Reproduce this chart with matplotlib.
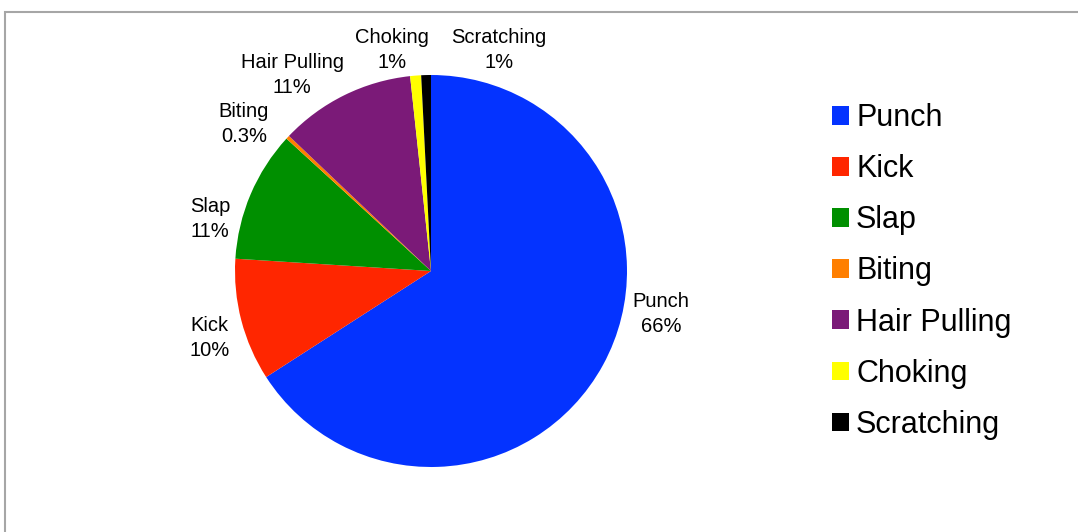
import matplotlib
matplotlib.use("Agg")
import matplotlib.pyplot as plt
from matplotlib.patches import Rectangle

plt.rcParams['font.family'] = ['Liberation Sans', 'DejaVu Sans']

categories = ['Punch', 'Kick', 'Slap', 'Biting', 'Hair Pulling', 'Choking', 'Scratching']
shares = [65.9, 10.1, 10.8, 0.3, 11.2, 0.9, 0.8]
pct_labels = ['66%', '10%', '11%', '0.3%', '11%', '1%', '1%']
colors = ['#0433FF', '#FF2600', '#008F00', '#FF7F00', '#7B1A78', '#FFFF00', '#000000']

# label anchor positions (pie radius = 1)
label_pos = [(1.173, -0.219), (-1.128, -0.342), (-1.128, 0.265), (-0.954, 0.75),
             (-0.709, 1.0), (-0.199, 1.128), (0.347, 1.128)]

W, H = 1078, 532
fig = plt.figure(figsize=(W / 100, H / 100), dpi=100)

# outer gray frame (runs off the right/bottom edge)
fig.patches.append(Rectangle((4.5 / W, -0.1), 1.2, 1.1 - 11.5 / H,
                             transform=fig.transFigure, fill=False,
                             edgecolor='#a6a6a6', linewidth=1.5))

cx, cy, r = 431, 271, 196
ax = fig.add_axes([(cx - r) / W, (H - cy - r) / H, 2 * r / W, 2 * r / H])
wedges, _ = ax.pie(shares, colors=colors, startangle=90, counterclock=False,
                   radius=1.0, wedgeprops=dict(linewidth=0))
ax.set_xlim(-1, 1)
ax.set_ylim(-1, 1)
ax.set_aspect('equal')
ax.axis('off')

for name, pct, (lx, ly) in zip(categories, pct_labels, label_pos):
    ax.text(lx, ly, f'{name}\n{pct}', ha='center', va='center', fontsize=14.5,
            linespacing=1.35, clip_on=False)

leg = fig.legend(wedges, categories, loc='upper left', bbox_to_anchor=(820 / W, 1 - 91 / H),
                 frameon=False, fontsize=22, handlelength=0.56, handleheight=0.56,
                 handletextpad=0.22, labelspacing=0.69, borderaxespad=0)

fig.savefig('out.png', dpi=100)
